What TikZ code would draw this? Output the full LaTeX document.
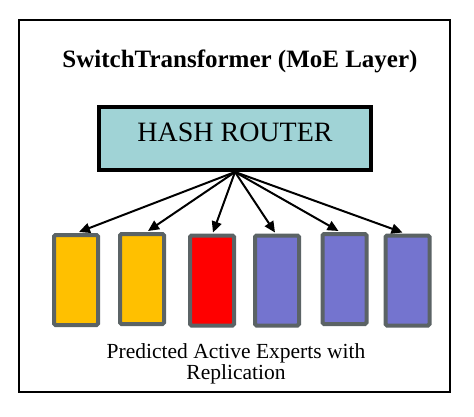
\documentclass[tikz,border=0pt]{standalone}
\usepackage{fontspec}
\setmainfont{Liberation Serif}
\usetikzlibrary{arrows.meta,calc}
\definecolor{routerfill}{HTML}{A0D3D6}
\definecolor{expgold}{HTML}{FFC000}
\definecolor{expred}{HTML}{FF0000}
\definecolor{exppurple}{HTML}{7474CF}
\definecolor{expborder}{HTML}{5B6365}
\tikzset{
  expert/.style={draw=expborder, line width=4pt, rounded corners=1.5pt,
    minimum width=44pt, minimum height=90pt, inner sep=0pt},
  conn/.style={line width=2pt, -{Triangle[length=11pt,width=10pt]}},
}
\begin{document}
\begin{tikzpicture}[x=1pt,y=-1pt]
\useasboundingbox (0,0) rectangle (474,417);
\draw[line width=2pt] (19,20) rectangle (450,392);
\node[anchor=base, font=\bfseries\fontsize{25}{30}\selectfont] (title) at (240,68) {SwitchTransformer (MoE Layer)};
\node[draw, line width=4pt, fill=routerfill, minimum width=272pt, minimum height=63pt, inner sep=0pt,
  text height=20pt, text depth=13.6pt, font=\fontsize{28}{32}\selectfont] (router) at (235,138.5) {HASH ROUTER};
\node[expert, fill=expgold] (e1) at (76,280) {};
\node[expert, fill=expgold] (e2) at (142,279) {};
\node[expert, fill=expred] (e3) at (212,280.5) {};
\node[expert, fill=exppurple] (e4) at (277,280.5) {};
\node[expert, fill=exppurple] (e5) at (344.5,279) {};
\node[expert, fill=exppurple] (e6) at (407.5,280.5) {};
\draw[conn] (router.south) -- ($(e1.north)+(3,-1)$);
\draw[conn] (router.south) -- ($(e2.north)+(6,-1)$);
\draw[conn] (router.south) -- ($(e3.north)+(1,-1)$);
\draw[conn] (router.south) -- ($(e4.north)+(-2,-1)$);
\draw[conn] (router.south) -- ($(e5.north)+(-6,-1)$);
\draw[conn] (router.south) -- ($(e6.north)+(-5,-1)$);
\node[align=center, font=\fontsize{21.5}{21}\selectfont] (caption) at (236,364) {Predicted Active Experts with\\Replication};
\end{tikzpicture}
\end{document}
